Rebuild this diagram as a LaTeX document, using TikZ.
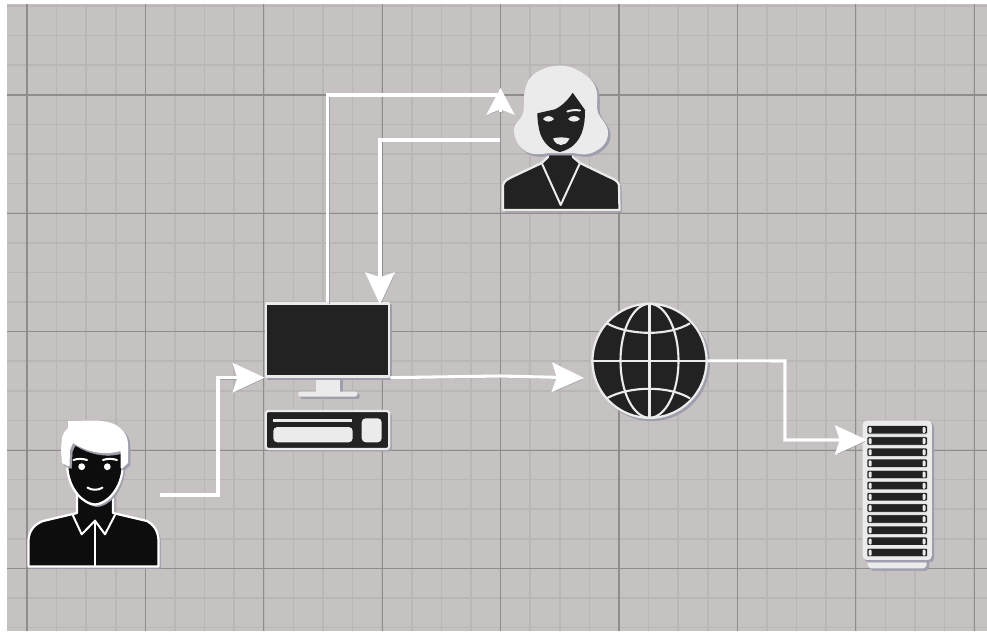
\documentclass[tikz,border=0pt]{standalone}
\usetikzlibrary{arrows.meta,calc}
\definecolor{bgc}{HTML}{C6C2C1}
\definecolor{minorc}{HTML}{BAB6B5}
\definecolor{majorc}{HTML}{8F8C8B}
\definecolor{shc}{HTML}{9F9EAC}
\definecolor{darkc}{HTML}{222222}
\definecolor{blackc}{HTML}{0D0D0D}
\definecolor{palec}{HTML}{EBEBEB}
\tikzset{
  px/.style={x=0.75pt,y=-0.75pt},
  minorline/.style={draw=minorc,line width=1.3pt},
  majorline/.style={draw=majorc,line width=0.9pt},
  shadowed/.style={preaction={draw=shc,fill=shc,transform canvas={xshift=1.6pt,yshift=-1.6pt}}},
  wire/.style={draw=white,line width=2.3pt,preaction={draw=shc,transform canvas={xshift=1.1pt,yshift=-1.1pt}}},
  tip/.style={-{Stealth[length=24pt,width=22pt,inset=3.5pt]}},
  shorttip/.style={-{Stealth[length=20pt,width=21pt,inset=4pt]}},
  dark/.style={fill=darkc,draw=palec,line width=1.7pt,line join=round},
  pale/.style={fill=palec,draw=none},
  manbody/.style={fill=blackc,draw=white,line width=1.7pt,line join=round},
  inkline/.style={draw=white,line width=1.5pt,line cap=round,line join=round},
  womanline/.style={draw=palec,line width=1.5pt,line cap=round,line join=round},
  monitor/.style={dark,shadowed,rectangle,inner sep=0pt,minimum width=92.5pt,minimum height=54.8pt},
  globeball/.style={dark,shadowed,circle,inner sep=0pt,minimum size=85.6pt},
  servercase/.style={pale,shadowed,rectangle,rounded corners=3pt,inner sep=0pt,minimum width=51.8pt,minimum height=104.5pt},
  rackbar/.style={fill=darkc,draw=palec,line width=0.4pt,rounded corners=0.8pt},
  rackpin/.style={fill=palec,draw=none,rounded corners=0.8pt},
}
\begin{document}
\begin{tikzpicture}[px]
\useasboundingbox (0,0) rectangle (987,631);
\fill[white] (0,0) rectangle (987,631);
\fill[bgc] (7,4) rectangle (987,631);
% grid
\foreach \i in {0,...,33}{ \draw[minorline] ({27+29.6*\i},4) -- ({27+29.6*\i},631); }
\foreach \i in {0,...,21}{ \draw[minorline] (7,{6+29.6*\i}) -- (987,{6+29.6*\i}); }
\foreach \i in {0,...,8}{ \draw[majorline] ({27+118.4*\i},4) -- ({27+118.4*\i},631); }
\foreach \i in {0,...,4}{ \draw[majorline] (7,{95+118.4*\i}) -- (987,{95+118.4*\i}); }

% man
\node[inner sep=0pt,minimum size=0pt] (man) at (93,494) {};
\draw[manbody,shadowed] (28.5,566.5) -- (28.5,540) .. controls (29,530) and (35,524) .. (43,521) -- (77,513) -- (77,495) -- (113,495) -- (113,513) -- (147,521) .. controls (153,524) and (158,530) .. (158.5,540) -- (158.5,566.5) -- cycle;
\draw[manbody,shadowed] (67.5,445) -- (67.5,470) .. controls (70,491) and (84,504) .. (95,504.5) .. controls (106,504) and (120,491) .. (122.5,470) -- (122.5,445) -- cycle;
\fill[white,shadowed] (67.5,466) -- (62,463) -- (61,450) -- (62,438) .. controls (63,433) and (66,430) .. (68,428) -- (68,421) -- (95,420.5) .. controls (108,421) and (116,424) .. (120,428) .. controls (126,433) and (128,438) .. (128,445) -- (128,463) -- (122.5,468) -- (120.5,468) -- (120.5,451) .. controls (108,455) and (90,454) .. (73,443) -- (70,450) -- (69.5,466) -- cycle;
\draw[inkline] (72.7,515) -- (81.7,534.3) -- (95,520.7) -- (105,534.3) -- (115,515);
\draw[inkline] (95,520.7) -- (95,565.7);
\draw[inkline] (73.5,460) .. controls (77,458.5) and (83,458.5) .. (87,460);
\draw[inkline] (103,460) .. controls (107,458.5) and (113,458.5) .. (117,460);
\fill[white] (81.7,466.7) circle [radius=3.4];
\fill[white] (107.3,466.7) circle [radius=3.4];
\draw[inkline] (87.5,487.5) .. controls (91,490.5) and (99,490.5) .. (102.5,487.5);

% woman
\node[inner sep=0pt,minimum size=0pt] (woman) at (561,138) {};
\draw[dark,shadowed] (503,210) -- (503,185) .. controls (504,181) and (508,179) .. (512,177) -- (541.7,163) -- (548,157) -- (548,148) -- (573,148) -- (573,157) -- (580,163) -- (609,177) .. controls (614,179) and (618,181) .. (619,185) -- (619.5,210) -- cycle;
\fill[pale,shadowed] (560,65.5) .. controls (568,65.5) and (574,68) .. (580,71.5) .. controls (590,77) and (596,84) .. (597,93) .. controls (598,100) and (596,108) .. (598,113) .. controls (601,120) and (608,124) .. (608,133) .. controls (608,142) and (602,148) .. (596,151) .. controls (590,155) and (582,155) .. (574,153) -- (548,153) .. controls (540,155) and (530,155) .. (524,150) .. controls (518,146) and (514,138) .. (514,130) .. controls (514,122) and (522,120) .. (523,113) .. controls (525,105) and (523,98) .. (525,90) .. controls (527,80) and (532,75) .. (537,72) .. controls (544,68) and (552,65.5) .. (560,65.5) -- cycle;
\fill[darkc] (537.3,113.3) -- (555,109.3) .. controls (562,106) and (568,100) .. (572.7,92.7) -- (585,110) .. controls (585,120) and (584,127) .. (581.7,133) .. controls (578,142) and (572,149) .. (560,152) .. controls (550,150) and (543,142) .. (540,133) .. controls (538,125) and (537.5,120) .. (537.3,113.3) -- cycle;
\draw[womanline] (541.7,163) -- (560.7,205) -- (580,163);
\draw[womanline] (567.3,111.5) .. controls (571,110) and (576,109.8) .. (580,110.5);
\fill[palec] (543,119) .. controls (546,115) and (551,115) .. (554,119) .. controls (551,122.5) and (546,122.5) .. (543,119) -- cycle;
\fill[palec] (568,119) .. controls (571,115) and (577,115) .. (580,119) .. controls (577,122.5) and (571,122.5) .. (568,119) -- cycle;
\fill[palec] (553,138.5) .. controls (557,137) and (565,137) .. (569.5,138.5) .. controls (567,143.5) and (564,145) .. (561,145) .. controls (558,145) and (555,143.5) .. (553,138.5) -- cycle;

% computer
\fill[pale,shadowed] (315.7,376) rectangle (340,392);
\fill[pale,shadowed,rounded corners=1.5pt] (298.3,391.7) rectangle (357.3,396.5);
\node[monitor] (pc) at (327.5,340) {};
\draw[dark,shadowed,rounded corners=2pt] (265.7,411) rectangle (389.3,449);
\fill[pale] (273.3,419) rectangle (352.3,421.7);
\fill[pale,rounded corners=3pt] (273.3,427) rectangle (352.7,442.3);
\fill[pale,rounded corners=3pt] (361.7,418.3) rectangle (381.7,442.3);

% globe
\node[globeball] (globe) at (649.5,360.8) {};
\draw[palec,line width=1.6pt] (globe.north) -- (globe.south);
\draw[palec,line width=1.6pt] (globe.west) -- (globe.east);
\draw[palec,line width=1.6pt] (globe.center) ellipse [x radius=29,y radius=57];
\draw[palec,line width=1.6pt] (606.7,323.3) .. controls (630,336) and (669,336) .. (690,323.3);
\draw[palec,line width=1.6pt] (606.7,398.3) .. controls (630,385.6) and (669,385.6) .. (690,398.3);

% server
\fill[pale,shadowed] (867.7,555) -- (867.7,565.5) -- (870.5,568.3) -- (924,568.3) -- (926.7,565.5) -- (926.7,555) -- cycle;
\node[servercase] (server) at (897.2,490.3) {};
\foreach \i in {0,...,11}{
  \draw[rackbar] (867,{425.7+11.15*\i}) rectangle (927.3,{434+11.15*\i});
  \fill[rackpin] (868.7,{427+11.15*\i}) rectangle (871.7,{433+11.15*\i});
  \fill[rackpin] (922.5,{427+11.15*\i}) rectangle (925.5,{433+11.15*\i});
}

% connectors
\coordinate (manOut) at (160,495);
\coordinate (manBend) at (218,495);
\coordinate (womanIn) at (500,95);
\coordinate (womanTip) at (500.5,88);
\coordinate (womanTail) at (500.5,112);
\coordinate (womanOut) at (500,140);
\coordinate (pcTop) at (380,304.5);
\coordinate (globeTip) at (584,378);
\coordinate (globeBend) at (500,376);
\coordinate (serverTip) at (867,440);
\coordinate (serverBend) at (785,361);
\path[wire,tip] (manOut) -- (manBend) |- (pc.south west);
\path[wire] (pc.north) |- (womanIn);
\path[wire,shorttip] (womanTail) -- (womanTip);
\path[wire,tip] (womanOut) -| (pcTop);
\path[wire,tip] (pc.south east) -- (globeBend) -- (globeTip);
\path[wire,tip] (globe.east) -- (serverBend) |- (serverTip);
\end{tikzpicture}
\end{document}
